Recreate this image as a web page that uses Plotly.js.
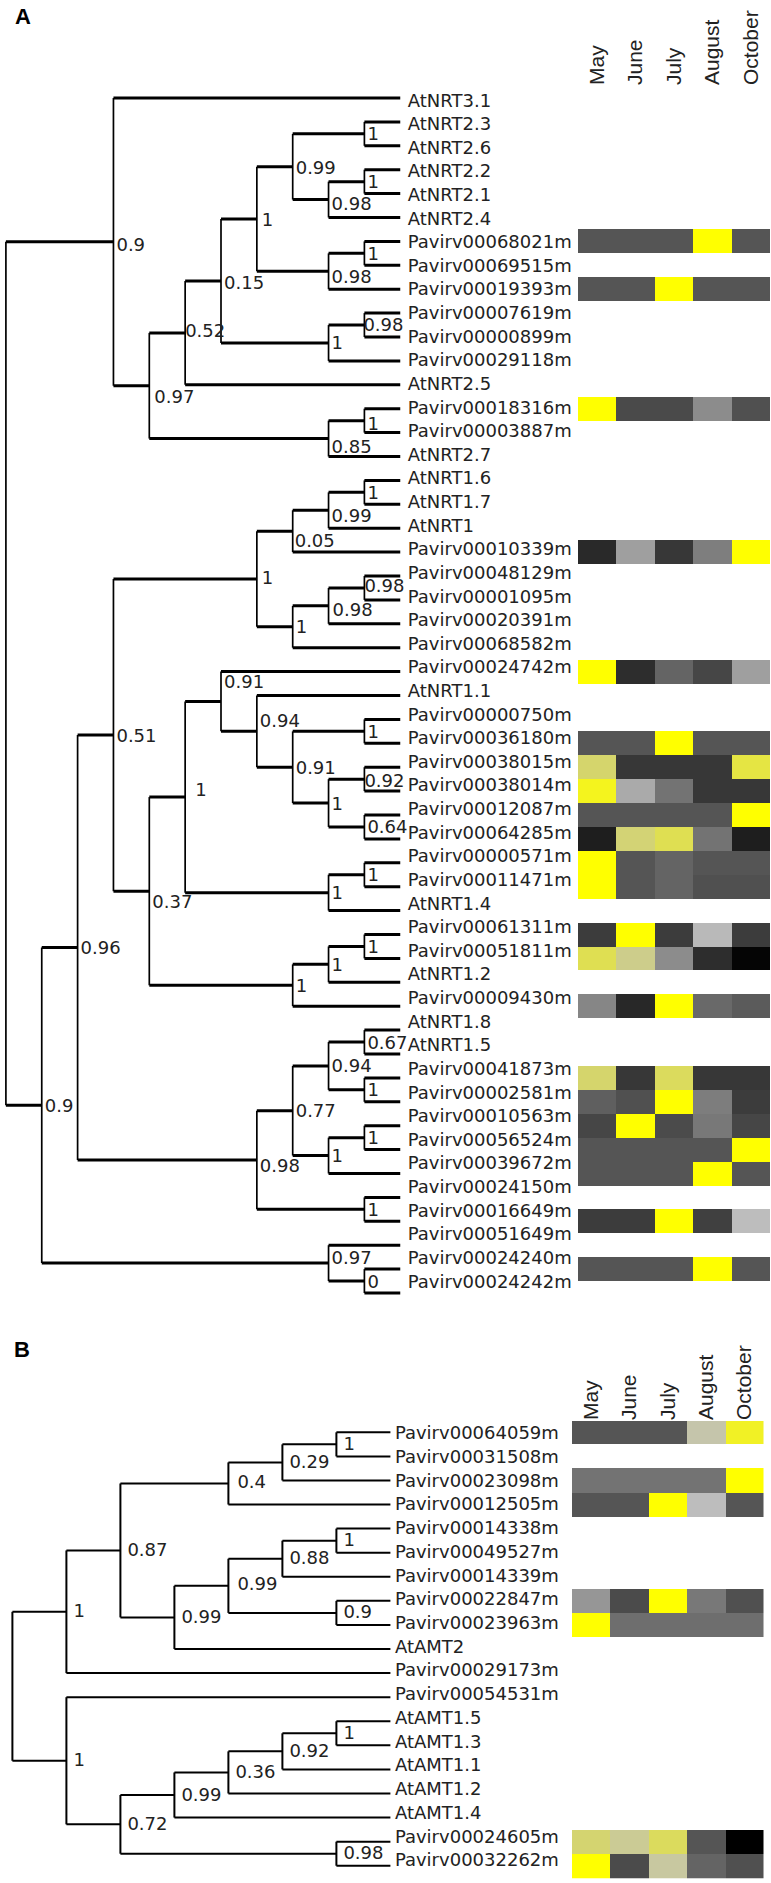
<!DOCTYPE html>
<html><head><meta charset="utf-8">
<script src="https://cdn.plot.ly/plotly-3.0.1.min.js"></script>
<style>html,body{margin:0;padding:0;background:#fff}</style>
</head><body><div id="chart" style="width:771px;height:1883px"></div>
<script>
// ---------------- DATA ----------------
const months = ['May', 'June', 'July', 'August', 'October'];

function N(level, support, children) { return { level: level, support: support, children: children }; }

// Panel A: nitrate transporter tree (node depth level, support value, children)
const treeA = N(0, '', [
  N(3, '0.9', [
    'AtNRT3.1',
    N(4, '0.97', [
      N(5, '0.52', [
        N(6, '0.15', [
          N(7, '1', [
            N(8, '0.99', [
              N(10, '1', ['AtNRT2.3', 'AtNRT2.6']),
              N(9, '0.98', [N(10, '1', ['AtNRT2.2', 'AtNRT2.1']), 'AtNRT2.4'])
            ]),
            N(9, '0.98', [N(10, '1', ['Pavirv00068021m', 'Pavirv00069515m']), 'Pavirv00019393m'])
          ]),
          N(9, '1', [N(10, '0.98', ['Pavirv00007619m', 'Pavirv00000899m']), 'Pavirv00029118m'])
        ]),
        'AtNRT2.5'
      ]),
      N(9, '0.85', [N(10, '1', ['Pavirv00018316m', 'Pavirv00003887m']), 'AtNRT2.7'])
    ])
  ]),
  N(1, '0.9', [
    N(2, '0.96', [
      N(3, '0.51', [
        N(7, '1', [
          N(8, '0.05', [N(9, '0.99', [N(10, '1', ['AtNRT1.6', 'AtNRT1.7']), 'AtNRT1']), 'Pavirv00010339m']),
          N(8, '1', [N(9, '0.98', [N(10, '0.98', ['Pavirv00048129m', 'Pavirv00001095m']), 'Pavirv00020391m']), 'Pavirv00068582m'])
        ]),
        N(4, '0.37', [
          N(5, '1', [
            N(6, '0.91', [
              'Pavirv00024742m',
              N(7, '0.94', [
                'AtNRT1.1',
                N(8, '0.91', [
                  N(10, '1', ['Pavirv00000750m', 'Pavirv00036180m']),
                  N(9, '1', [N(10, '0.92', ['Pavirv00038015m', 'Pavirv00038014m']), N(10, '0.64', ['Pavirv00012087m', 'Pavirv00064285m'])])
                ])
              ])
            ]),
            N(9, '1', [N(10, '1', ['Pavirv00000571m', 'Pavirv00011471m']), 'AtNRT1.4'])
          ]),
          N(8, '1', [N(9, '1', [N(10, '1', ['Pavirv00061311m', 'Pavirv00051811m']), 'AtNRT1.2']), 'Pavirv00009430m'])
        ])
      ]),
      N(7, '0.98', [
        N(8, '0.77', [
          N(9, '0.94', [N(10, '0.67', ['AtNRT1.8', 'AtNRT1.5']), N(10, '1', ['Pavirv00041873m', 'Pavirv00002581m'])]),
          N(9, '1', [N(10, '1', ['Pavirv00010563m', 'Pavirv00056524m']), 'Pavirv00039672m'])
        ]),
        N(10, '1', ['Pavirv00024150m', 'Pavirv00016649m'])
      ])
    ]),
    N(9, '0.97', ['Pavirv00051649m', N(10, '0', ['Pavirv00024240m', 'Pavirv00024242m'])])
  ])
]);

const heatGenesA = ['Pavirv00068021m', 'Pavirv00019393m', 'Pavirv00018316m', 'Pavirv00010339m', 'Pavirv00024742m',
  'Pavirv00036180m', 'Pavirv00038015m', 'Pavirv00038014m', 'Pavirv00012087m', 'Pavirv00064285m', 'Pavirv00000571m',
  'Pavirv00011471m', 'Pavirv00061311m', 'Pavirv00051811m', 'Pavirv00009430m', 'Pavirv00041873m', 'Pavirv00002581m',
  'Pavirv00010563m', 'Pavirv00056524m', 'Pavirv00039672m', 'Pavirv00016649m', 'Pavirv00024240m'];
const heatValuesA = [
  [0.31, 0.31, 0.31, 1.00, 0.31],
  [0.31, 0.31, 1.00, 0.31, 0.31],
  [1.00, 0.27, 0.27, 0.51, 0.29],
  [0.15, 0.58, 0.20, 0.46, 1.00],
  [1.00, 0.165, 0.365, 0.255, 0.58],
  [0.31, 0.31, 1.00, 0.31, 0.31],
  [0.855, 0.20, 0.20, 0.20, 0.91],
  [0.96, 0.62, 0.42, 0.20, 0.20],
  [0.31, 0.31, 0.31, 0.31, 1.00],
  [0.11, 0.84, 0.89, 0.42, 0.11],
  [1.00, 0.31, 0.365, 0.31, 0.31],
  [1.00, 0.31, 0.365, 0.29, 0.29],
  [0.22, 1.00, 0.22, 0.674, 0.22],
  [0.89, 0.80, 0.51, 0.165, 0.02],
  [0.49, 0.146, 1.00, 0.383, 0.33],
  [0.855, 0.20, 0.875, 0.20, 0.20],
  [0.346, 0.29, 1.00, 0.456, 0.22],
  [0.255, 1.00, 0.273, 0.4375, 0.255],
  [0.31, 0.31, 0.31, 0.31, 1.00],
  [0.31, 0.31, 0.31, 1.00, 0.31],
  [0.22, 0.22, 1.00, 0.235, 0.69],
  [0.31, 0.31, 0.31, 1.00, 0.31]
];

// Panel B: ammonium transporter tree
const treeB = N(0, '', [
  N(1, '1', [
    N(2, '0.87', [
      N(4, '0.4', [N(5, '0.29', [N(6, '1', ['Pavirv00064059m', 'Pavirv00031508m']), 'Pavirv00023098m']), 'Pavirv00012505m']),
      N(3, '0.99', [
        N(4, '0.99', [
          N(5, '0.88', [N(6, '1', ['Pavirv00014338m', 'Pavirv00049527m']), 'Pavirv00014339m']),
          N(6, '0.9', ['Pavirv00022847m', 'Pavirv00023963m'])
        ]),
        'AtAMT2'
      ])
    ]),
    'Pavirv00029173m'
  ]),
  N(1, '1', [
    'Pavirv00054531m',
    N(2, '0.72', [
      N(3, '0.99', [N(4, '0.36', [N(5, '0.92', [N(6, '1', ['AtAMT1.5', 'AtAMT1.3']), 'AtAMT1.1']), 'AtAMT1.2']), 'AtAMT1.4']),
      N(6, '0.98', ['Pavirv00024605m', 'Pavirv00032262m'])
    ])
  ])
]);

const heatGenesB = ['Pavirv00064059m', 'Pavirv00023098m', 'Pavirv00012505m', 'Pavirv00022847m', 'Pavirv00023963m',
  'Pavirv00024605m', 'Pavirv00032262m'];
const heatValuesB = [
  [0.31, 0.31, 0.31, 0.74, 0.95],
  [0.42, 0.42, 0.42, 0.42, 1.00],
  [0.31, 0.31, 1.00, 0.69, 0.31],
  [0.547, 0.273, 1.00, 0.4375, 0.29],
  [1.00, 0.40, 0.40, 0.40, 0.40],
  [0.85, 0.78, 0.875, 0.31, 0.00],
  [1.00, 0.273, 0.76, 0.365, 0.29]
];

// ---------------- STYLE / LAYOUT ----------------
const W = 771, H = 1883;
const FONT = 'Liberation Sans, Arial, Helvetica, sans-serif';
const LABELFONT = 'DejaVu Sans, Verdana, sans-serif';
const TXT = '#222222';
const colorscale = [[0, 'rgb(0,0,0)'], [0.7, 'rgb(192,192,192)'], [0.85, 'rgb(212,212,112)'], [1, 'rgb(255,255,0)']];

// label nudges in px (dx, dy) keyed by "firstLeaf/lastLeaf"
const nudgeA = {
  'AtNRT3.1/AtNRT2.7': [3, 5], 'AtNRT2.3/AtNRT2.7': [5, 13], 'AtNRT2.3/AtNRT2.5': [0, 0],
  'AtNRT2.3/Pavirv00029118m': [3, 4], 'AtNRT2.3/Pavirv00019393m': [5, 3], 'AtNRT2.3/AtNRT2.4': [3, 3],
  'AtNRT2.2/AtNRT2.4': [3, 6], 'Pavirv00068021m/Pavirv00019393m': [3, 7], 'Pavirv00007619m/Pavirv00000899m': [-1, 1],
  'Pavirv00018316m/AtNRT2.7': [3, 10], 'Pavirv00018316m/Pavirv00003887m': [3, 5],
  'AtNRT1.6/Pavirv00010339m': [2, 11], 'AtNRT1.6/AtNRT1': [3, 7], 'Pavirv00048129m/Pavirv00020391m': [4, 6],
  'Pavirv00048129m/Pavirv00001095m': [0, 0], 'Pavirv00024742m/Pavirv00009430m': [3, 12],
  'Pavirv00024742m/AtNRT1.4': [10, -6], 'Pavirv00024742m/Pavirv00064285m': [3, -18],
  'AtNRT1.1/Pavirv00064285m': [3, -9], 'Pavirv00038015m/Pavirv00038014m': [0, 3],
  'AtNRT1.8/Pavirv00016649m': [3, 7], 'Pavirv00051649m/Pavirv00024242m': [3, -4],
  'AtNRT1.6/Pavirv00068582m': [5, 1]
};
const nudgeB = {
  'Pavirv00064059m/Pavirv00012505m': [9, 0], 'Pavirv00014338m/Pavirv00023963m': [9, 0]
};

const panels = [
  {
    tree: treeA, tip: 11, heatGenes: heatGenesA, heatValues: heatValuesA,
    xa: 'x', ya: 'y', xh: 'x2',
    x0: 5.9, pxLevel: 35.85, leaf1: 98, step: 23.9, domTop: 86, domBot: 1310,
    heat: [578, 770],
    hWidth: 3, vWidth: 1.7, leafDx: 7.5, leafOff: [4, -10],
    nodeDx: 3, nodeDy: 2, nudge: nudgeA
  },
  {
    tree: treeB, tip: 7, heatGenes: heatGenesB, heatValues: heatValuesB,
    xa: 'x3', ya: 'y3', xh: 'x4',
    x0: 12.4, pxLevel: 54.0, leaf1: 1432.3, step: 24.08, domTop: 1421, domBot: 1882,
    heat: [572, 763.5],
    hWidth: 2, vWidth: 2, leafDx: 4.5, leafOff: [2.5, -4],
    nodeDx: 7, nodeDy: 1, nudge: nudgeB
  }
];

const traces = [];
const layout = {
  width: W, height: H, margin: { l: 0, r: 0, t: 0, b: 0 },
  paper_bgcolor: '#fff', plot_bgcolor: 'rgba(0,0,0,0)', showlegend: false,
  font: { family: FONT, color: TXT },
  annotations: [
    { text: '<b>A</b>', x: 23 / W, y: 1 - 17 / H, xref: 'paper', yref: 'paper', showarrow: false, xanchor: 'center', yanchor: 'middle', font: { size: 22, color: '#000', family: FONT } },
    { text: '<b>B</b>', x: 22 / W, y: 1 - 1349 / H, xref: 'paper', yref: 'paper', showarrow: false, xanchor: 'center', yanchor: 'middle', font: { size: 22, color: '#000', family: FONT } }
  ]
};

function axName(id) { return id.replace(/^x$/, 'xaxis').replace(/^y$/, 'yaxis').replace(/^x(\d)/, 'xaxis$1').replace(/^y(\d)/, 'yaxis$1'); }

panels.forEach(function (P) {
  const leaves = [];
  const nodes = [];
  function walk(n) {
    if (typeof n === 'string') {
      leaves.push(n);
      return { name: n, x: P.tip, y: leaves.length, first: n, last: n, leaf: true };
    }
    const kids = n.children.map(walk);
    const node = {
      x: n.level, y: (kids[0].y + kids[kids.length - 1].y) / 2, kids: kids,
      support: n.support, first: kids[0].first, last: kids[kids.length - 1].last
    };
    nodes.push(node);
    return node;
  }
  walk(P.tree);
  const nLeaf = leaves.length;

  const hx = [], hy = [], vx = [], vy = [];
  nodes.forEach(function (nd) {
    vx.push(nd.x, nd.x, null);
    vy.push(nd.kids[0].y, nd.kids[nd.kids.length - 1].y, null);
    nd.kids.forEach(function (k) { hx.push(nd.x, k.x, null); hy.push(k.y, k.y, null); });
  });
  traces.push({ type: 'scatter', mode: 'lines', x: hx, y: hy, xaxis: P.xa, yaxis: P.ya, line: { color: '#000', width: P.hWidth }, hoverinfo: 'skip', cliponaxis: false });
  traces.push({ type: 'scatter', mode: 'lines', x: vx, y: vy, xaxis: P.xa, yaxis: P.ya, line: { color: '#000', width: P.vWidth }, hoverinfo: 'skip', cliponaxis: false });

  // leaf labels
  const lx = [], ly = [];
  leaves.forEach(function (name, i) {
    const offPx = P.leafOff[0] + (P.leafOff[1] - P.leafOff[0]) * i / (nLeaf - 1);
    lx.push(P.tip + P.leafDx / P.pxLevel);
    ly.push(i + 1 + offPx / P.step);
  });
  traces.push({ type: 'scatter', mode: 'text', x: lx, y: ly, text: leaves, textposition: 'middle right', xaxis: P.xa, yaxis: P.ya, textfont: { family: LABELFONT, size: 18, color: TXT }, hoverinfo: 'skip', cliponaxis: false });

  // node support labels
  const nx = [], ny = [], nt = [];
  nodes.forEach(function (nd) {
    if (nd.support === '') return;
    const key = nd.first + '/' + nd.last;
    const nud = P.nudge[key] || [P.nodeDx, P.nodeDy];
    nx.push(nd.x + nud[0] / P.pxLevel);
    ny.push(nd.y + nud[1] / P.step);
    nt.push(nd.support);
  });
  traces.push({ type: 'scatter', mode: 'text', x: nx, y: ny, text: nt, textposition: 'middle right', xaxis: P.xa, yaxis: P.ya, textfont: { family: LABELFONT, size: 18, color: TXT }, hoverinfo: 'skip', cliponaxis: false });

  // heatmap rows aligned with leaves
  const z = leaves.map(function (name) {
    const k = P.heatGenes.indexOf(name);
    return k >= 0 ? P.heatValues[k] : [null, null, null, null, null];
  });
  const yIdx = leaves.map(function (_, i) { return i + 1; });
  traces.push({ type: 'heatmap', x: months, y: yIdx, z: z, xaxis: P.xh, yaxis: P.ya, colorscale: colorscale, zmin: 0, zmax: 1, showscale: false, hoverinfo: 'skip', zsmooth: false });

  // axes
  const yDom = [1 - P.domBot / H, 1 - P.domTop / H];
  const yRange = [1 + (P.domBot - P.leaf1) / P.step, 1 + (P.domTop - P.leaf1) / P.step];
  const xRange = [-P.x0 / P.pxLevel, (W - P.x0) / P.pxLevel];
  const hidden = { showgrid: false, zeroline: false, showline: false, showticklabels: false, ticks: '', fixedrange: true };
  layout[axName(P.xa)] = Object.assign({ domain: [0, 1], range: xRange, anchor: P.ya }, hidden);
  layout[axName(P.ya)] = Object.assign({ domain: yDom, range: yRange, anchor: P.xa }, hidden);
  layout[axName(P.xh)] = {
    domain: [P.heat[0] / W, P.heat[1] / W], anchor: P.ya, side: 'top',
    type: 'category', categoryarray: months, tickangle: -90, showgrid: false, zeroline: false, showline: false,
    ticks: '', ticklen: 0, tickfont: { family: FONT, size: 21, color: TXT }, fixedrange: true
  };
});

Plotly.newPlot('chart', traces, layout, { staticPlot: true, displayModeBar: false });
</script>
</body></html>
